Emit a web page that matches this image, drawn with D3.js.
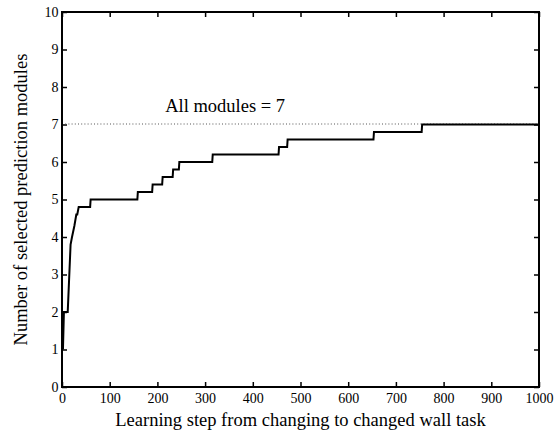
<!DOCTYPE html>
<html>
<head>
<meta charset="utf-8">
<script src="https://cdn.jsdelivr.net/npm/d3@7"></script>
<style>
  body { margin: 0; background: #fff; }
  text { font-family: "Liberation Serif", "Times New Roman", serif; fill: #000; }
</style>
</head>
<body>
<svg id="chart"></svg>
<script>
// learning curve: number of selected modules over steps
var steps   = [2, 4, 12, 18, 21, 26, 30, 32, 35, 59, 60, 158, 159, 189, 190, 210, 211, 232, 233, 245, 246, 315, 316, 454, 455, 472, 473, 653, 654, 754, 755, 1000];
var modules = [1, 2, 2, 3.8, 4.0, 4.3, 4.6, 4.6, 4.8, 4.8, 5.0, 5.0, 5.2, 5.2, 5.4, 5.4, 5.6, 5.6, 5.8, 5.8, 6.0, 6.0, 6.2, 6.2, 6.4, 6.4, 6.6, 6.6, 6.8, 6.8, 7.0, 7.0];
var allModules = 7;
var xTicks = [0, 100, 200, 300, 400, 500, 600, 700, 800, 900, 1000];
var yTicks = [0, 1, 2, 3, 4, 5, 6, 7, 8, 9, 10];

var width = 555, height = 434;
var margin = {left: 62, right: 16, top: 12, bottom: 47};

var svg = d3.select("#chart")
    .attr("width", width)
    .attr("height", height);

var x = d3.scaleLinear()
    .domain([0, 1000])
    .range([margin.left, width - margin.right]);

var y = d3.scaleLinear()
    .domain([0, 10])
    .range([height - margin.bottom, margin.top]);

function tidy(g) {
  g.select(".domain").remove();
  g.selectAll("line").attr("stroke-width", 1.5);
  g.selectAll("text").attr("font-size", 14);
}

// ticks on all four sides, pointing inward
svg.append("g")
    .attr("transform", "translate(0," + y(0) + ")")
    .call(d3.axisBottom(x).tickValues(xTicks).tickSizeInner(-5).tickSizeOuter(0).tickPadding(6).tickFormat(d3.format("d")))
    .call(tidy);

svg.append("g")
    .attr("transform", "translate(0," + y(10) + ")")
    .call(d3.axisTop(x).tickValues(xTicks).tickSizeInner(-5).tickSizeOuter(0).tickFormat(""))
    .call(tidy);

svg.append("g")
    .attr("transform", "translate(" + x(0) + ",0)")
    .call(d3.axisLeft(y).tickValues(yTicks).tickSizeInner(-5).tickSizeOuter(0).tickPadding(3.5))
    .call(tidy);

svg.append("g")
    .attr("transform", "translate(" + x(1000) + ",0)")
    .call(d3.axisRight(y).tickValues(yTicks).tickSizeInner(-5).tickSizeOuter(0).tickFormat(""))
    .call(tidy);

// reference line
svg.append("line")
    .attr("x1", x(0))
    .attr("x2", x(1000))
    .attr("y1", y(allModules) - 0.5)
    .attr("y2", y(allModules) - 0.5)
    .attr("stroke", "#555")
    .attr("stroke-width", 1)
    .attr("stroke-dasharray", "1,2.2");

svg.append("text")
    .attr("x", x(342))
    .attr("y", y(7.33))
    .attr("text-anchor", "middle")
    .attr("font-size", 18.5)
    .text("All modules = " + allModules);

var line = d3.line()
    .x(function(d, i) { return x(steps[i]); })
    .y(function(d) { return y(d); });

svg.append("path")
    .datum(modules)
    .attr("fill", "none")
    .attr("stroke", "#000")
    .attr("stroke-width", 2)
    .attr("stroke-linejoin", "miter")
    .attr("d", line);

// frame
svg.append("rect")
    .attr("x", x(0))
    .attr("y", y(10))
    .attr("width", x(1000) - x(0))
    .attr("height", y(0) - y(10))
    .attr("fill", "none")
    .attr("stroke", "#000")
    .attr("stroke-width", 2);

svg.append("text")
    .attr("x", (x(0) + x(1000)) / 2)
    .attr("y", 426)
    .attr("text-anchor", "middle")
    .attr("font-size", 18.5)
    .text("Learning step from changing to changed wall task");

svg.append("text")
    .attr("transform", "translate(27," + (y(5)) + ") rotate(-90)")
    .attr("text-anchor", "middle")
    .attr("font-size", 18.5)
    .text("Number of selected prediction modules");
</script>
</body>
</html>
